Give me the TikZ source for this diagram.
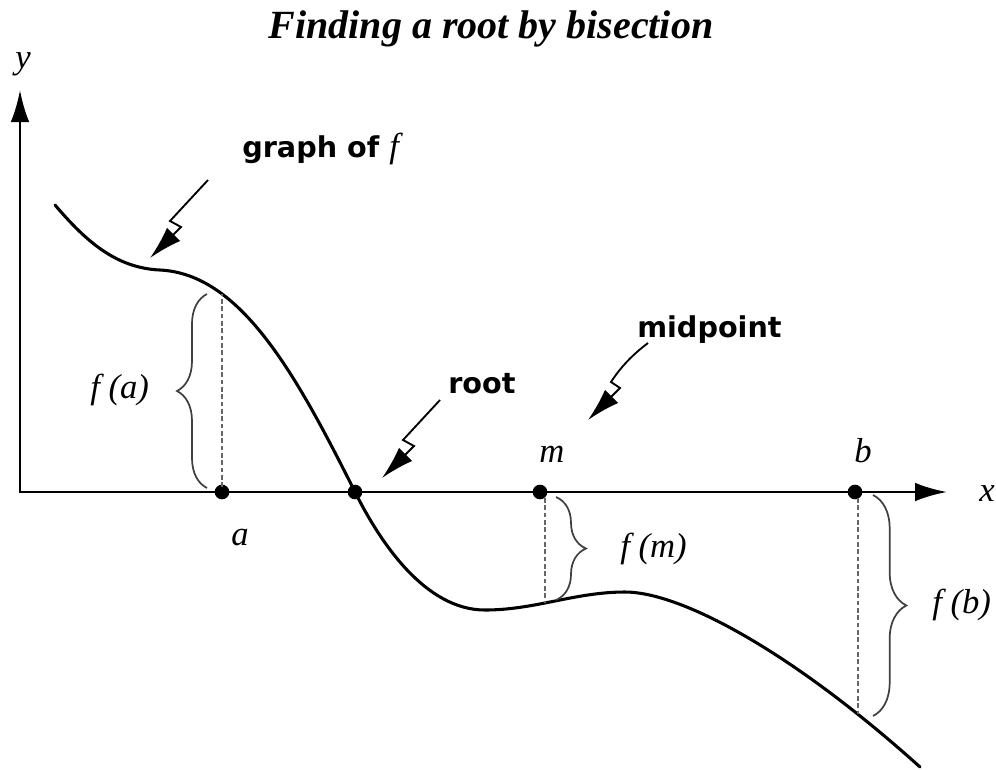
\documentclass[tikz,border=0pt]{standalone}
\usepackage{fontspec}
\setmainfont{Liberation Serif}
\newfontfamily\annfont{DejaVu Sans}
\usetikzlibrary{arrows.meta,decorations.pathreplacing}
\tikzset{
  axes/.style={line width=2pt, {Latex[length=24pt,width=14pt]}-{Latex[length=24pt,width=14pt]}},
  fcurve/.style={line width=2.3pt, line cap=round},
  dot/.style={circle, fill=black, inner sep=0pt, minimum size=11pt},
  pointer/.style={line width=1.4pt, -{Latex[length=25pt,width=14pt]}, line join=miter},
  guide/.style={line width=2.2pt, black!60, dash pattern=on 3.5pt off 2pt},
  brc/.style={decorate, decoration={brace, amplitude=#1}, line width=1.3pt, black!75},
  mlab/.style={font=\fontsize{26}{30}\selectfont\itshape, inner sep=0pt},
  ann/.style={font=\annfont\bfseries\fontsize{21.5}{26}\selectfont, inner sep=0pt},
  ttl/.style={font=\fontsize{30}{36}\selectfont\bfseries\itshape, inner sep=0pt}
}
\begin{document}
\begin{tikzpicture}[x=0.75pt, y=-0.75pt]
\useasboundingbox (0,0) rectangle (996,769);

% axes
\coordinate (O) at (20,492);
\coordinate (ytip) at (20,90);
\coordinate (xtip) at (947,492);
\draw[axes] (ytip) -- (O) -- (xtip);

% graph of f
\coordinate (P0) at (55,205);
\coordinate (P1) at (160,270);
\coordinate (P2) at (355,492);
\coordinate (P3) at (485,610);
\coordinate (P4) at (625,592);
\coordinate (P5) at (920,767);
\draw[fcurve] (P0) .. controls (85,240) and (115,268) .. (P1)
  .. controls (240,274) and (295,372) .. (P2)
  .. controls (380,542) and (425,610) .. (P3)
  .. controls (535,610) and (575,592) .. (P4)
  .. controls (680,592) and (790,650) .. (P5);

% points on the curve
\coordinate (fa) at (222,294);
\coordinate (fm) at (545,603);
\coordinate (fb) at (858,714);

% points on the axis
\node[dot] (a) at (222,492) {};
\node[dot] (r) at (355,492) {};
\node[dot] (m) at (540,492) {};
\node[dot] (b) at (855,492) {};

% dashed verticals
\draw[guide] (222,487) -- (fa);
\draw[guide] (545,498) -- (fm);
\draw[guide] (858,498) -- (fb);

% braces
\draw[brc=22.5pt] (207,488) -- (207,294);
\draw[brc=22.5pt] (556,497) -- (556,600);
\draw[brc=25pt] (873,495) -- (873,716);

% title
\node[ttl, anchor=base] (title) at (491,38) {Finding a root by bisection};

% axis labels
\node[mlab] (ylab) at (23,64) {y};
\node[mlab] (xlab) at (987,494) {x};
\node[mlab, anchor=base] (alab) at (240,545) {a};
\node[mlab, anchor=base] (mlab) at (552,462) {m};
\node[mlab, anchor=base] (blab) at (863,462) {b};

% value labels
\node[mlab, anchor=base west] (falab) at (90,398) {f (a)};
\node[mlab, anchor=base west] (fmlab) at (620,557) {f (m)};
\node[mlab, anchor=base west] (fblab) at (932,613) {f (b)};

% annotations
\node[ann, anchor=base west] (graphlab) at (242,157) {graph of {\fontsize{26}{30}\selectfont\normalfont\itshape f}};
\node[ann, anchor=base west] (rootlab) at (448,393) {root};
\node[ann, anchor=base west] (midlab) at (637,337) {midpoint};

\coordinate (g0) at (208,180);
\coordinate (g1) at (170,221);
\coordinate (g2) at (181,227);
\coordinate (g3) at (150,258);
\draw[pointer] (g0) -- (g1) -- (g2) -- (g3);

\coordinate (r0) at (440,400);
\coordinate (r1) at (403,440);
\coordinate (r2) at (414,446);
\coordinate (r3) at (382,478);
\draw[pointer] (r0) -- (r1) -- (r2) -- (r3);

\coordinate (m0) at (648,343);
\coordinate (m1) at (611,382);
\coordinate (m2) at (620,388);
\coordinate (m3) at (588,420);
\draw[pointer] (m0) .. controls (632,355) and (620,368) .. (m1) -- (m2) -- (m3);
\end{tikzpicture}
\end{document}
